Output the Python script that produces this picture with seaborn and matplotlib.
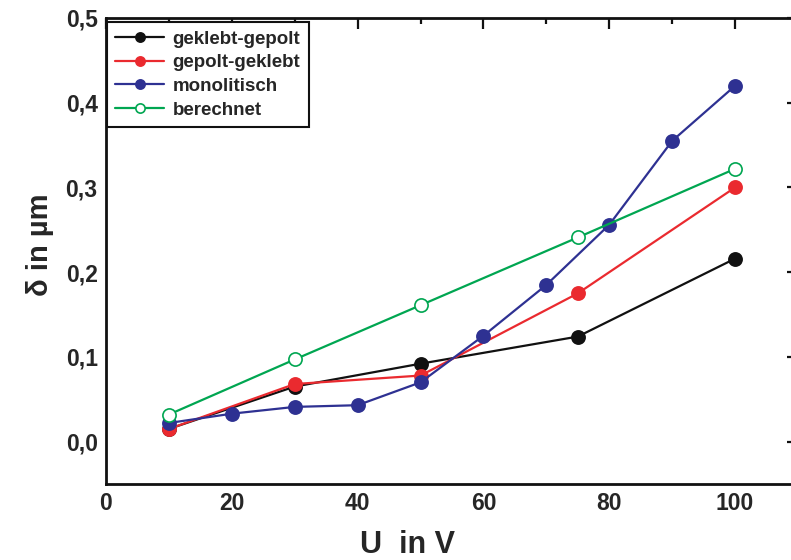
import matplotlib
matplotlib.use("Agg")
import matplotlib.pyplot as plt
import seaborn as sns
import pandas as pd
from matplotlib.ticker import MultipleLocator, FuncFormatter

# data
x_kg = [10, 30, 50, 75, 100]
y_kg = [0.015, 0.065, 0.092, 0.124, 0.216]   # geklebt-gepolt
x_gk = [10, 30, 50, 75, 100]
y_gk = [0.015, 0.068, 0.078, 0.175, 0.300]   # gepolt-geklebt
x_mono = [10, 20, 30, 40, 50, 60, 70, 80, 90, 100]
y_mono = [0.022, 0.033, 0.041, 0.043, 0.070, 0.125, 0.185, 0.256, 0.355, 0.420]
x_ber = [10, 30, 50, 75, 100]
y_ber = [0.032, 0.097, 0.161, 0.241, 0.322]
labels = ["geklebt-gepolt", "gepolt-geklebt", "monolitisch", "berechnet"]

sns.set_style("white")
plt.rcParams['font.family'] = ['Liberation Sans', 'DejaVu Sans']
plt.rcParams['font.weight'] = 'bold'

fig = plt.figure(figsize=(7.91, 5.60), dpi=100)
ax = fig.add_axes([106/791, 76/560, 692/791, 466/560])

series = [
    (x_kg, y_kg, "#111111", "#111111"),
    (x_gk, y_gk, "#ea2a2f", "#ea2a2f"),
    (x_mono, y_mono, "#2e3192", "#2e3192"),
    (x_ber, y_ber, "#00a651", "white"),
]
for (xs, ys, c, fc), lab in zip(series, labels):
    df = pd.DataFrame({"U": xs, "d": ys})
    sns.lineplot(data=df, x="U", y="d", ax=ax, color=c, marker="o",
                 markersize=9.5, markerfacecolor=fc, markeredgecolor=c,
                 markeredgewidth=1.2, linewidth=1.6, label=lab)

ax.set_xlim(0, 110)
ax.set_ylim(-0.05, 0.5)
ax.xaxis.set_major_locator(MultipleLocator(20))
ax.xaxis.set_minor_locator(MultipleLocator(10))
ax.yaxis.set_major_locator(MultipleLocator(0.1))
ax.yaxis.set_minor_locator(MultipleLocator(0.05))
ax.yaxis.set_major_formatter(FuncFormatter(lambda v, p: f"{v:.1f}".replace(".", ",")))
ax.tick_params(which="both", direction="in", top=True, right=True, width=1.6, color="#111111")
ax.tick_params(which="major", length=8, labelsize=16.5, pad=6)
ax.tick_params(which="minor", length=4)
for lab in ax.get_xticklabels() + ax.get_yticklabels():
    lab.set_fontweight("bold")
for s in ax.spines.values():
    s.set_linewidth(2.0)
    s.set_color("#111111")

fig.text(408/791, 1 - 545/560, "U  in V", ha="center", va="center", fontsize=22, fontweight="bold")
fig.text(40/791, 1 - 245/560, "δ in µm", ha="center", va="center", rotation=90, fontsize=21, fontweight="bold")
ax.set_xlabel("")
ax.set_ylabel("")

leg = ax.legend(loc="upper left", bbox_to_anchor=(107/791, 1 - 22/560), bbox_transform=fig.transFigure,
                frameon=True, fancybox=False, framealpha=1, edgecolor="#111111",
                prop={"weight": "bold", "size": 13.5}, handlelength=2.6, handletextpad=0.45,
                borderpad=0.45, labelspacing=0.35, borderaxespad=0, markerscale=0.7)
leg.get_frame().set_linewidth(1.5)

fig.savefig("out.png", dpi=100)
